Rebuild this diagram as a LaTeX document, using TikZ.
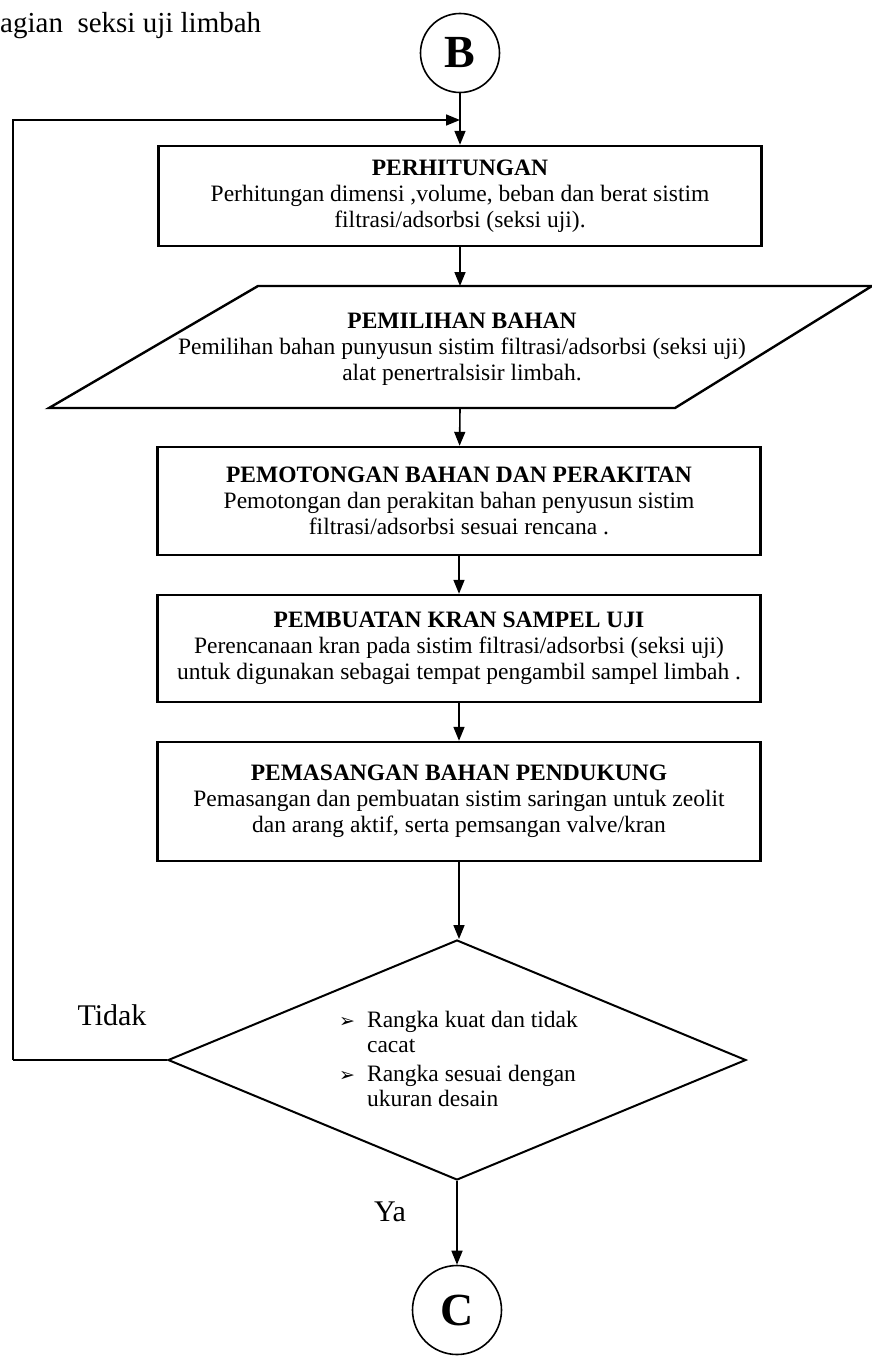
\documentclass[tikz,border=0pt]{standalone}
\usepackage{fontspec}
\setmainfont{Liberation Serif}
\newfontfamily\symfont{DejaVu Sans}
\usetikzlibrary{shapes.geometric,arrows.meta}

\begin{document}
\begin{tikzpicture}[x=1pt,y=-1pt,
  flow/.style={draw, line width=1.6pt, -{Triangle[length=14pt,width=11pt]}},
  procbox/.style={draw, line width=2.4pt, rectangle, minimum width=603pt,
    inner sep=0pt, align=center, font=\fontsize{23.5}{26}\selectfont},
  conn/.style={draw, circle, line width=1.6pt, inner sep=0pt,
    font=\fontsize{46}{46}\selectfont\bfseries},
  bigtext/.style={inner sep=0pt, font=\fontsize{30}{30}\selectfont},
]
\useasboundingbox (0,0) rectangle (872,1357);

% heading fragment
\node[bigtext, anchor=base west, font=\fontsize{29}{29}\selectfont] (head) at (0,32) {agian\ \ seksi uji limbah};

% connectors B and C
\node[conn, minimum size=79pt] (B) at (460,53) {B};
\node[conn, minimum size=89pt] (C) at (457,1310) {C};

% process steps
\node[procbox, minimum height=100pt] (p1) at (460,196)
  {\textbf{PERHITUNGAN}\\
   Perhitungan dimensi ,volume, beban dan berat sistim\\
   filtrasi/adsorbsi (seksi uji).};

% material selection (parallelogram)
\coordinate (pa) at (258,286);
\coordinate (pb) at (872,286);
\coordinate (pc) at (675,408);
\coordinate (pd) at (49,408);
\draw[line width=2.4pt, line join=miter] (pa) -- (pb) -- (pc) -- (pd) -- cycle;
\coordinate (p2n) at (460,286);
\coordinate (p2s) at (460,408);
\node[align=center, inner sep=0pt, font=\fontsize{23.5}{26}\selectfont] (p2) at (462,349)
  {\textbf{PEMILIHAN BAHAN}\\
   Pemilihan bahan punyusun sistim filtrasi/adsorbsi (seksi uji)\\
   alat penertralsisir limbah.};

\node[procbox, minimum height=108pt] (p3) at (459,501)
  {\textbf{PEMOTONGAN BAHAN DAN PERAKITAN}\\
   Pemotongan dan perakitan bahan penyusun sistim\\
   filtrasi/adsorbsi sesuai rencana .};

\node[procbox, minimum height=107pt] (p4) at (459,648.5)
  {\textbf{PEMBUATAN KRAN SAMPEL UJI}\\
   Perencanaan kran pada sistim filtrasi/adsorbsi (seksi uji)\\
   untuk digunakan sebagai tempat pengambil sampel limbah .};

\node[procbox, minimum height=119pt] (p5) at (459,801.5)
  {\textbf{PEMASANGAN BAHAN PENDUKUNG}\\
   Pemasangan dan pembuatan sistim saringan untuk zeolit\\
   dan arang aktif, serta pemsangan valve/kran};

% decision
\node[diamond, draw, line width=2pt, inner sep=0pt,
  minimum width=578pt, minimum height=240pt] (dec) at (457,1060) {};
\node[anchor=west, inner sep=0pt, font=\fontsize{23.5}{25.5}\selectfont] (crit) at (339,1062)
  {\begin{tabular}{@{}l@{\hspace{12pt}}l@{}}
     {\symfont\fontsize{19}{25}\selectfont ➢} & Rangka kuat dan tidak\\
      & cacat\\[3pt]
     {\symfont\fontsize{19}{25}\selectfont ➢} & Rangka sesuai dengan\\
      & ukuran desain
   \end{tabular}};

\node[bigtext] (no) at (112,1015) {Tidak};
\node[bigtext] (yes) at (390,1212) {Ya};

% flow lines
\coordinate (join) at (460,120);
\coordinate (lc) at (13,1060);
\draw[flow] (B) -- (p1);
\draw[flow] (p1) -- (p2n);
\draw[flow] (p2s) -- (p3);
\draw[flow] (p3) -- (p4);
\draw[flow] (p4) -- (p5);
\draw[flow] (p5.south) -- (p5.south |- dec.north);
\draw[flow] (dec.south) -- (C);
\draw[line width=1.6pt] (dec.west) -- (lc);
\draw[flow] (lc) |- (join);
\end{tikzpicture}
\end{document}
